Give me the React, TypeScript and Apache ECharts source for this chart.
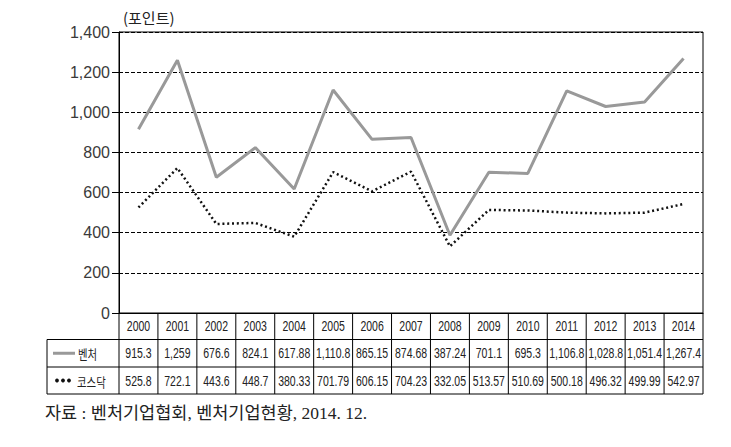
import React, { useEffect, useRef } from "react";
import * as echarts from "echarts";

const years = ["2000","2001","2002","2003","2004","2005","2006","2007","2008","2009","2010","2011","2012","2013","2014"];
const venture = [915.3,1259,676.6,824.1,617.88,1110.8,865.15,874.68,387.24,701.1,695.3,1106.8,1028.8,1051.4,1267.4];
const kosdaq = [525.8,722.1,443.6,448.7,380.33,701.79,606.15,704.23,332.05,513.57,510.69,500.18,496.32,499.99,542.97];
const ventureLabels = ["915.3","1,259","676.6","824.1","617.88","1,110.8","865.15","874.68","387.24","701.1","695.3","1,106.8","1,028.8","1,051.4","1,267.4"];
const kosdaqLabels = ["525.8","722.1","443.6","448.7","380.33","701.79","606.15","704.23","332.05","513.57","510.69","500.18","496.32","499.99","542.97"];
const seriesNames = ["벤처", "코스닥"];
const unitLabel = "(포인트)";
const sourceText = "자료 : 벤처기업협회, 벤처기업현황, 2014. 12.";

const SANS = "'Liberation Sans', Arial, sans-serif";
const KR = "'Noto Sans CJK KR', sans-serif";
const SERIF_KR = "'Liberation Serif', 'Noto Sans CJK KR', serif";

export default function App() {
  const ref = useRef<HTMLDivElement>(null);
  useEffect(() => {
    if (!ref.current) return;
    const chart = echarts.init(ref.current, null, { renderer: "svg" });
    chart.setOption({
      animation: false,
      backgroundColor: "#fff",
      grid: { left: 119, right: 28, top: 32, bottom: 134, show: true, borderColor: "#000", borderWidth: 1 },
      xAxis: {
        type: "category",
        data: years,
        boundaryGap: true,
        axisLine: { show: true, lineStyle: { color: "#000", width: 1 } },
        axisTick: { show: false },
        axisLabel: { show: false },
      },
      yAxis: {
        type: "value",
        min: 0,
        max: 1400,
        interval: 200,
        axisLine: { show: true, lineStyle: { color: "#000", width: 1 } },
        axisTick: { show: true, length: 7, lineStyle: { color: "#000" } },
        axisLabel: {
          fontFamily: SANS,
          fontSize: 16,
          color: "#3a3a3a",
          margin: 9,
          formatter: (v: number) => v.toLocaleString("en-US"),
        },
        splitLine: { show: true, lineStyle: { color: "#000", type: [4, 2], width: 1 } },
      },
      series: [
        {
          name: seriesNames[0],
          type: "line",
          data: venture,
          symbol: "none",
          lineStyle: { color: "#999", width: 3 },
          z: 3,
        },
        {
          name: seriesNames[1],
          type: "line",
          data: kosdaq,
          symbol: "none",
          lineStyle: { color: "#111", width: 2.5, type: [2, 2.8] },
          z: 4,
        },
      ],
    });

    const px = (i: number) => chart.convertToPixel({ xAxisIndex: 0 }, i) as number;
    const py = (v: number) => chart.convertToPixel({ yAxisIndex: 0 }, v) as number;
    const step = px(1) - px(0);
    const bounds: number[] = [];
    for (let i = 0; i <= years.length; i++) bounds.push(px(0) - step / 2 + i * step);
    const xL = bounds[0];
    const xR = bounds[bounds.length - 1];
    const headL = xL - 72;
    const y0 = py(0);
    const rows = [y0, y0 + 26.5, y0 + 54, y0 + 81];
    const els: any[] = [];
    const ln = (x1: number, y1: number, x2: number, y2: number) =>
      els.push({ type: "line", shape: { x1, y1, x2, y2 }, style: { stroke: "#000", lineWidth: 1 }, silent: true });
    ln(xL, rows[1], xR, rows[1]);
    ln(headL, rows[1], xL, rows[1]);
    ln(headL, rows[2], xR, rows[2]);
    ln(headL, rows[3], xR, rows[3]);
    ln(headL, rows[1], headL, rows[3]);
    bounds.forEach((b) => ln(b, rows[0], b, rows[3]));
    const txt = (text: string, x: number, y: number, opts: any = {}, scaleX = 0.7) =>
      els.push({
        type: "text",
        x,
        y,
        scaleX,
        style: {
          text,
          fill: "#222",
          fontFamily: SANS,
          fontSize: 15,
          align: "center",
          verticalAlign: "middle",
          ...opts,
        },
        silent: true,
      });
    years.forEach((yr, i) => {
      const cx = px(i);
      txt(yr, cx, (rows[0] + rows[1]) / 2);
      txt(ventureLabels[i], cx, (rows[1] + rows[2]) / 2);
      txt(kosdaqLabels[i], cx, (rows[2] + rows[3]) / 2);
    });
    const r2 = (rows[1] + rows[2]) / 2;
    const r3 = (rows[2] + rows[3]) / 2;
    els.push({ type: "line", shape: { x1: headL + 6, y1: r2, x2: headL + 28, y2: r2 }, style: { stroke: "#999", lineWidth: 3 }, silent: true });
    [0, 1, 2].forEach((k) =>
      els.push({ type: "circle", shape: { cx: headL + 10 + k * 6, cy: r3, r: 1.9 }, style: { fill: "#111" }, silent: true })
    );
    txt(seriesNames[0], headL + 31, r2, { align: "left", fontFamily: KR, fontSize: 13 }, 0.8);
    txt(seriesNames[1], headL + 30, r3, { align: "left", fontFamily: KR, fontSize: 13 }, 0.8);
    txt(unitLabel, xL + 4, py(1400) - 15, { align: "left", fontFamily: KR, fontSize: 15, fill: "#222" }, 1);
    txt(sourceText, headL - 2, rows[3] + 19, { align: "left", fontFamily: SERIF_KR, fontSize: 17.5, fill: "#222" }, 1);
    chart.setOption({ graphic: els });

    return () => chart.dispose();
  }, []);
  return <div ref={ref} style={{ width: 731, height: 447, margin: -8 }} />;
}
